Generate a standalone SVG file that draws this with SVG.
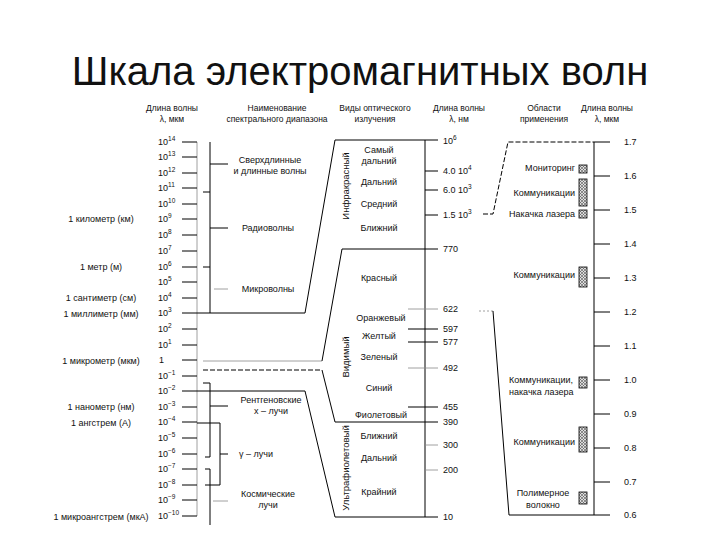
<svg xmlns="http://www.w3.org/2000/svg" width="720" height="540" viewBox="0 0 720 540">
<defs>
<style>
text{font-family:"Liberation Sans",Arial,sans-serif;fill:#111;font-size:9px}
.h{font-size:8.5px;text-anchor:middle}
.m{text-anchor:middle}
.e{text-anchor:end}
.ln{stroke:#000;stroke-width:1;fill:none}
.gr{stroke:#888;stroke-width:0.8;fill:none}
.ds{stroke:#000;stroke-width:1;fill:none;stroke-dasharray:5 2}
.bx{fill:url(#hatch);stroke:#000;stroke-width:0.8}
</style>
<pattern id="hatch" width="3" height="3" patternUnits="userSpaceOnUse">
<rect width="3" height="3" fill="#ddd"/>
<path d="M0,0L3,3M3,0L0,3" stroke="#555" stroke-width="0.6"/>
</pattern>
</defs>
<rect width="720" height="540" fill="#fff"/>

<g id="title">
<text x="360" y="85" text-anchor="middle" style="font-size:40px">Шкала электромагнитных волн</text>
</g>

<g id="headers">
<text class="h" x="172" y="111">Длина волны</text>
<text class="h" x="172" y="122">λ, мкм</text>
<text class="h" x="277" y="111">Наименование</text>
<text class="h" x="277" y="122">спектрального диапазона</text>
<text class="h" x="375" y="111">Виды оптического</text>
<text class="h" x="375" y="122">излучения</text>
<text class="h" x="459" y="111">Длина волны</text>
<text class="h" x="459" y="122">λ, нм</text>
<text class="h" x="544" y="111">Области</text>
<text class="h" x="544" y="122">применения</text>
<text class="h" x="607" y="111">Длина волны</text>
<text class="h" x="607" y="122">λ, мкм</text>
</g>

<g id="scale-um">
<line class="gr" x1="197" y1="142" x2="197" y2="516"/>
<path class="ln" d="M182,142H197M182,157H197M182,173H197M182,188H197M182,204H197M182,219H197M182,235H197M182,251H197M182,267H197M182,282H197M182,298H197M182,313H197M182,329H197M182,345H197M182,360H197M182,376H197M182,391H197M182,407H197M182,422H197M182,438H197M182,454H197M182,469H197M182,485H197M182,500H197M182,516H197"/>
<text x="158" y="145">10<tspan dy="-4" font-size="6.5">14</tspan></text>
<text x="158" y="160">10<tspan dy="-4" font-size="6.5">13</tspan></text>
<text x="158" y="176">10<tspan dy="-4" font-size="6.5">12</tspan></text>
<text x="158" y="191">10<tspan dy="-4" font-size="6.5">11</tspan></text>
<text x="158" y="207">10<tspan dy="-4" font-size="6.5">10</tspan></text>
<text x="158" y="222">10<tspan dy="-4" font-size="6.5">9</tspan></text>
<text x="158" y="238">10<tspan dy="-4" font-size="6.5">8</tspan></text>
<text x="158" y="254">10<tspan dy="-4" font-size="6.5">7</tspan></text>
<text x="158" y="270">10<tspan dy="-4" font-size="6.5">6</tspan></text>
<text x="158" y="285">10<tspan dy="-4" font-size="6.5">5</tspan></text>
<text x="158" y="301">10<tspan dy="-4" font-size="6.5">4</tspan></text>
<text x="158" y="316">10<tspan dy="-4" font-size="6.5">3</tspan></text>
<text x="158" y="332">10<tspan dy="-4" font-size="6.5">2</tspan></text>
<text x="158" y="348">10<tspan dy="-4" font-size="6.5">1</tspan></text>
<text x="159" y="363">1</text>
<text x="158" y="379">10<tspan dy="-4" font-size="6.5">−1</tspan></text>
<text x="158" y="394">10<tspan dy="-4" font-size="6.5">−2</tspan></text>
<text x="158" y="410">10<tspan dy="-4" font-size="6.5">−3</tspan></text>
<text x="158" y="425">10<tspan dy="-4" font-size="6.5">−4</tspan></text>
<text x="158" y="441">10<tspan dy="-4" font-size="6.5">−5</tspan></text>
<text x="158" y="457">10<tspan dy="-4" font-size="6.5">−6</tspan></text>
<text x="158" y="472">10<tspan dy="-4" font-size="6.5">−7</tspan></text>
<text x="158" y="488">10<tspan dy="-4" font-size="6.5">−8</tspan></text>
<text x="158" y="503">10<tspan dy="-4" font-size="6.5">−9</tspan></text>
<text x="158" y="519">10<tspan dy="-4" font-size="6.5">−10</tspan></text>
</g>

<g id="units">
<text class="m" x="101" y="222">1 километр (км)</text>
<text class="m" x="101" y="270">1 метр (м)</text>
<text class="m" x="101" y="301">1 сантиметр (см)</text>
<text class="m" x="101" y="317">1 миллиметр (мм)</text>
<text class="m" x="101" y="364">1 микрометр (мкм)</text>
<text class="m" x="101" y="410">1 нанометр (нм)</text>
<text class="m" x="101" y="426">1 ангстрем (А)</text>
<text class="m" x="101" y="520">1 микроангстрем (мкА)</text>
</g>

<g id="names">
<text class="m" x="270" y="163">Сверхдлинные</text>
<text class="m" x="270" y="174">и длинные волны</text>
<text class="m" x="268" y="231">Радиоволны</text>
<text class="m" x="268" y="292">Микроволны</text>
<text class="m" x="271" y="403">Рентгеновские</text>
<text class="m" x="271" y="414">x – лучи</text>
<text x="239" y="457">γ – лучи</text>
<text class="m" x="268" y="497">Космические</text>
<text class="m" x="268" y="508">лучи</text>
</g>

<g id="optical">
<text class="m" x="379" y="153">Самый</text>
<text class="m" x="379" y="164">дальний</text>
<text class="m" x="379" y="185">Дальний</text>
<text class="m" x="379" y="207">Средний</text>
<text class="m" x="379" y="231">Ближний</text>
<text class="m" x="379" y="281">Красный</text>
<text class="m" x="381" y="321">Оранжевый</text>
<text class="m" x="379" y="339">Желтый</text>
<text class="m" x="379" y="360">Зеленый</text>
<text class="m" x="379" y="391">Синий</text>
<text class="m" x="381" y="418">Фиолетовый</text>
<text class="m" x="379" y="439">Ближний</text>
<text class="m" x="379" y="461">Дальний</text>
<text class="m" x="379" y="495">Крайний</text>
<text class="m" transform="translate(349,186) rotate(-90)" style="font-size:9.5px">Инфракрасный</text>
<text class="m" transform="translate(349,357) rotate(-90)" style="font-size:9.5px">Видимый</text>
<text class="m" transform="translate(349,468) rotate(-90)" style="font-size:9.5px">Ультрафиолетовый</text>
</g>

<g id="scale-nm">
<line class="ln" x1="425" y1="140" x2="425" y2="517"/>
<path class="ln" d="M425,171H438M425,190H438M425,215H438M408,329H438M408,342H438M408,407H438"/>
<path class="gr" d="M408,309H438M408,368H438M425,445H438M425,470H438"/>
<text x="443" y="144">10<tspan dy="-4" font-size="6.5">6</tspan></text>
<text x="443" y="174">4.0 10<tspan dy="-4" font-size="6.5">4</tspan></text>
<text x="443" y="193">6.0 10<tspan dy="-4" font-size="6.5">3</tspan></text>
<text x="443" y="218">1.5 10<tspan dy="-4" font-size="6.5">3</tspan></text>
<text x="443" y="252">770</text>
<text x="443" y="312">622</text>
<text x="443" y="332">597</text>
<text x="443" y="345">577</text>
<text x="443" y="371">492</text>
<text x="443" y="410">455</text>
<text x="443" y="425">390</text>
<text x="443" y="448">300</text>
<text x="443" y="473">200</text>
<text x="443" y="520">10</text>
</g>

<g id="applications">
<text class="e" x="575" y="171">Мониторинг</text>
<text class="e" x="575" y="196">Коммуникации</text>
<text class="e" x="575" y="217">Накачка лазера</text>
<text class="e" x="575" y="278">Коммуникации</text>
<text x="509" y="383">Коммуникации,</text>
<text x="509" y="395">накачка лазера</text>
<text class="e" x="575" y="445">Коммуникации</text>
<text class="m" x="543" y="496">Полимерное</text>
<text class="m" x="543" y="508">волокно</text>
<rect class="bx" x="579" y="165" width="8" height="8"/>
<rect class="bx" x="579" y="179" width="8" height="27"/>
<rect class="bx" x="579" y="210" width="8" height="8"/>
<rect class="bx" x="579" y="267" width="8" height="20"/>
<rect class="bx" x="579" y="377" width="8" height="11"/>
<rect class="bx" x="579" y="427" width="8" height="25"/>
<rect class="bx" x="579" y="492" width="8" height="12"/>
</g>

<g id="scale-um2">
<line class="ln" x1="594" y1="142" x2="594" y2="515"/>
<path class="ln" d="M594,142H610M594,176H610M594,210H610M594,244H610M594,278H610M594,312H610M594,346H610M594,380H610M594,414H610M594,448H610M594,482H610M594,515H610"/>
<text x="624" y="145">1.7</text>
<text x="624" y="179">1.6</text>
<text x="624" y="213">1.5</text>
<text x="624" y="247">1.4</text>
<text x="624" y="281">1.3</text>
<text x="624" y="315">1.2</text>
<text x="624" y="349">1.1</text>
<text x="624" y="383">1.0</text>
<text x="624" y="417">0.9</text>
<text x="624" y="451">0.8</text>
<text x="624" y="485">0.7</text>
<text x="624" y="518">0.6</text>
</g>

<g id="connectors">
<line class="ln" x1="210" y1="142" x2="210" y2="313"/>
<path class="ln" d="M203,192H210M203,267H210M210,164H228M210,228H228"/>
<path class="gr" d="M214,289H228"/>
<path class="ln" d="M197,313H305L335,140H438"/>
<path class="gr" d="M203,361H322"/>
<path class="ln" d="M322,361L342,249H438"/>
<path class="ds" d="M203,370H322"/>
<path class="ln" d="M322,370L335,422H438"/>
<path class="ln" d="M197,391H305L335,517H438"/>
<path class="ln" d="M203,383H210V457H205M210,406H228"/>
<path class="ln" d="M197,423H220V485H205M220,454H228"/>
<path class="ln" d="M205,469H210V525"/>
<path class="gr" d="M213,501H228"/>
<path class="ds" d="M483,214H493L508,142H594"/>
<path class="gr" d="M479,311H493" stroke-dasharray="2 2"/>
<path class="ln" d="M493,311L509,515H594"/>
</g>
</svg>
